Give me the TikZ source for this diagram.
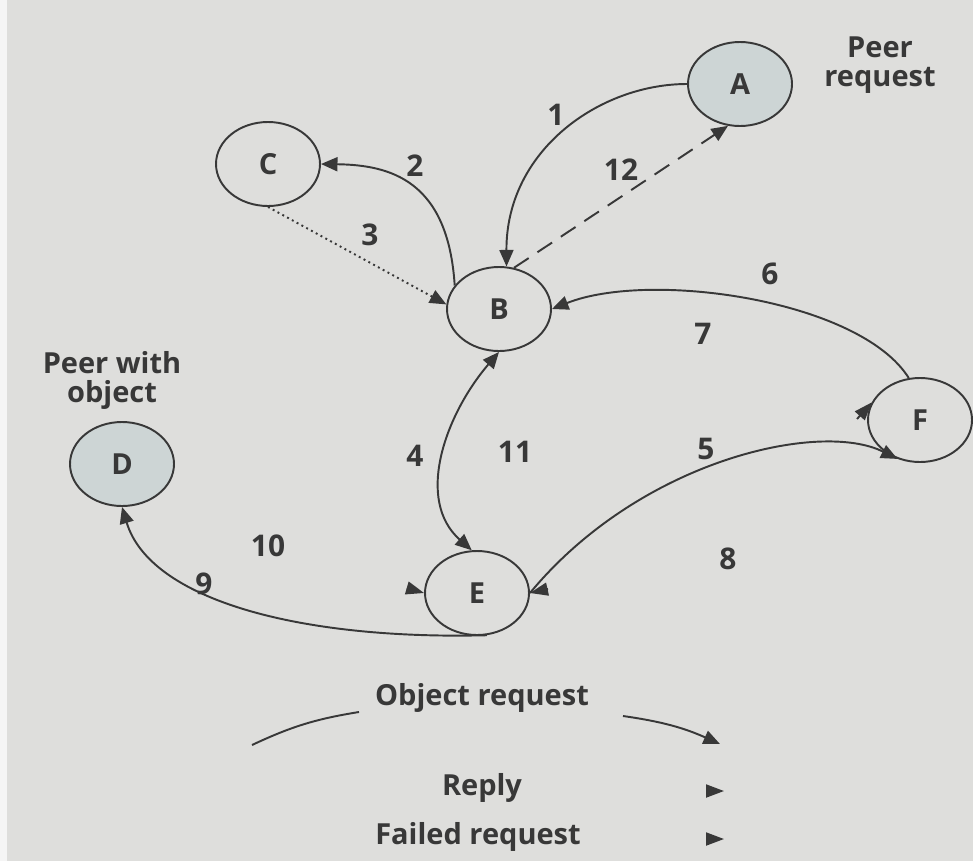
\documentclass[tikz,border=0pt]{standalone}
\usepackage{fontspec}
\setmainfont{Open Sans}
\usepackage{xcolor}
\usepackage{tikz}
\usetikzlibrary{positioning, shapes.geometric, arrows.meta}
\definecolor{paperG}{HTML}{DEDEDC}
\definecolor{peerS}{HTML}{CDD5D5}
\definecolor{inkD}{HTML}{383838}

\begin{document}
\begin{tikzpicture}[x=0.2mm, y=-0.2mm, font=\fontsize{16.5}{16.5}\selectfont\bfseries, text=inkD,
   peer/.style={ellipse, draw=inkD, line width=1.1pt, minimum width=20.8mm, minimum height=16.8mm,
                inner sep=0pt},
   msg/.style={draw=inkD, line width=1.1pt, -{Triangle[length=3.3mm, width=2.8mm]}},
   num/.style={font=\fontsize{17}{17}\selectfont\bfseries},
   lonetip/.style={msg, -{Triangle[length=3.6mm, width=2.6mm]}}]
  % page
  \fill[paperG] (0,0) rectangle (973,861);
  \fill[white!70!paperG] (0,0) rectangle (7,861);
  \useasboundingbox (0,0) rectangle (973,861);
  % peers
  \foreach \n/\x/\y/\f in {A/740/84/peerS, B/499/309/paperG, C/268/164/paperG,
                           D/122/464/peerS, E/477/593/paperG, F/920/420/paperG}
    \node[peer, fill=\f] (\n) at (\x,\y) {\n};
  \node[align=center] (areq) at (880,65) {Peer\\request};
  \node[align=center] (dobj) at (112,380) {Peer with\\object};
  % requests and replies
  \draw[msg] (A.west) .. controls (600,84) and (506,150) .. (B.80);
  \draw[msg] (B.152) .. controls (448,180) and (390,165) .. (C.east);
  \draw[msg, dotted] (C.south) -- (B.175);
  \draw[msg, {Triangle[length=3.3mm, width=2.8mm]}-{Triangle[length=3.3mm, width=2.8mm]}]
    (B.south) .. controls (445,415) and (415,500) .. (E.97);
  \draw[msg] (E.east) .. controls (640,460) and (820,420) .. (F.240);
  \draw[msg] (F.105) .. controls (860,300) and (650,270) .. (B.east);
  \draw[msg] (E.283) .. controls (300,640) and (150,600) .. (D.south);
  \draw[msg, dashed, dash pattern=on 10pt off 6pt] (B.70) -- (A.254);
  % replies whose lines are not shown
  \coordinate (r7) at (857,419);
  \coordinate (r8) at (548,589);
  \coordinate (r10) at (407,588);
  \draw[lonetip] (r7) -- (F.160);
  \draw[lonetip] (r8) -- (E.east);
  \draw[lonetip] (r10) -- (E.west);
  % step numbers
  \foreach \t/\x/\y in {1/556/115, 2/415/166, 3/370/235, 4/415/456, 5/706/449, 6/770/274,
                        7/703/334, 8/728/559, 9/204/584, 10/268/546, 11/515/452, 12/621/170}
    \node[num] (n\t) at (\x,\y) {\t};
  % legend
  \node (objreq) at (482,698) {Object request};
  \node (reply) at (482,788) {Reply};
  \node (failreq) at (478,837) {Failed request};
  \coordinate (lgA) at (252,745);
  \coordinate (lgB) at (359,712);
  \coordinate (lgC) at (623,716);
  \coordinate (lgD) at (720,744);
  \draw[draw=inkD, line width=1.1pt] (lgA) to[bend left=8] (lgB);
  \draw[msg] (lgC) to[bend left=8] (lgD);
  \coordinate (rpA) at (706,791);
  \coordinate (rpB) at (724,791);
  \coordinate (frA) at (706,839);
  \coordinate (frB) at (724,839);
  \draw[lonetip] (rpA) -- (rpB);
  \draw[lonetip] (frA) -- (frB);
\end{tikzpicture}
\end{document}
